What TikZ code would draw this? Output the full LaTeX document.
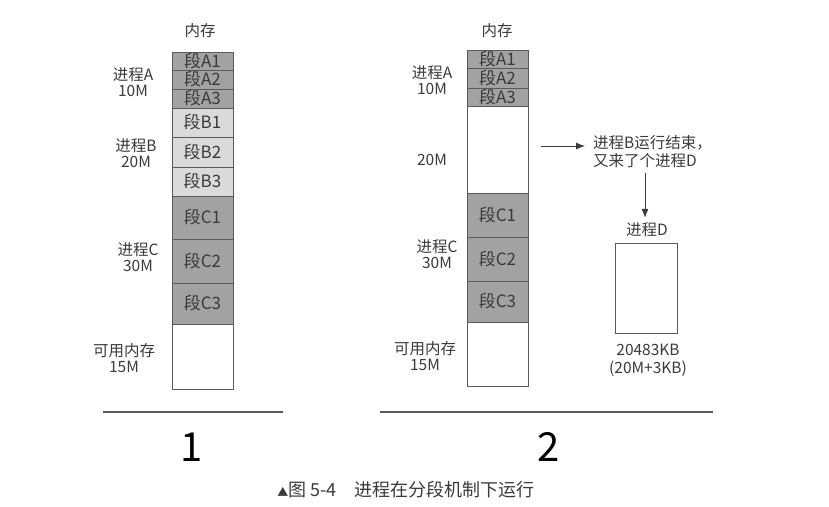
\documentclass[tikz,border=0pt]{standalone}
\usepackage{fontspec}
\setmainfont{Noto Sans CJK SC}
\usepackage{xcolor}
\usetikzlibrary{arrows.meta}

\definecolor{inkgray}{HTML}{3A3A3A}
\definecolor{linegray}{HTML}{5A5A5A}
\definecolor{segdark}{HTML}{A2A2A2}
\definecolor{seglight}{HTML}{DADADA}

\begin{document}
\begin{tikzpicture}[x=1pt, y=-1pt,
  seg/.style={rectangle, draw=linegray, line width=0.9pt, minimum width=61pt, inner sep=0pt, text=inkgray, font=\fontsize{17}{17}\selectfont},
  lbl/.style={align=center, text=inkgray, inner sep=0pt, font=\fontsize{15.5}{16.5}\selectfont},
  arr/.style={-{Latex[length=9pt,width=7pt]}, draw=inkgray, line width=0.8pt}]
\useasboundingbox (0,0) rectangle (829,506);

% memory 1
\node[lbl] (mem1) at (200,31) {内存};
\node[seg, fill=segdark, minimum height=18] (la1) at (202.5,61) {段A1};
\node[seg, fill=segdark, minimum height=19] (la2) at (202.5,79.5) {段A2};
\node[seg, fill=segdark, minimum height=19] (la3) at (202.5,98.5) {段A3};
\node[seg, fill=seglight, minimum height=29] (lb1) at (202.5,122.5) {段B1};
\node[seg, fill=seglight, minimum height=30] (lb2) at (202.5,152) {段B2};
\node[seg, fill=seglight, minimum height=29] (lb3) at (202.5,181.5) {段B3};
\node[seg, fill=segdark, minimum height=43] (lc1) at (202.5,217.5) {段C1};
\node[seg, fill=segdark, minimum height=44] (lc2) at (202.5,261) {段C2};
\node[seg, fill=segdark, minimum height=41] (lc3) at (202.5,303.5) {段C3};
\node[seg, fill=white, minimum height=65] (lfree) at (202.5,356.5) {};

\node[lbl] (lpa) at (133,82) {进程A\\10M};
\node[lbl] (lpb) at (136,153) {进程B\\20M};
\node[lbl] (lpc) at (138,257) {进程C\\30M};
\node[lbl] (lpf) at (124,358) {可用内存\\15M};

% memory 2
\node[lbl] (mem2) at (497,31) {内存};
\node[seg, fill=segdark, minimum height=18] (ra1) at (497.5,59) {段A1};
\node[seg, fill=segdark, minimum height=20] (ra2) at (497.5,78) {段A2};
\node[seg, fill=segdark, minimum height=18] (ra3) at (497.5,97) {段A3};
\node[seg, fill=white, minimum height=87] (rhole) at (497.5,149.5) {};
\node[seg, fill=segdark, minimum height=44] (rc1) at (497.5,215) {段C1};
\node[seg, fill=segdark, minimum height=44] (rc2) at (497.5,259) {段C2};
\node[seg, fill=segdark, minimum height=41] (rc3) at (497.5,301.5) {段C3};
\node[seg, fill=white, minimum height=64] (rfree) at (497.5,354) {};

\node[lbl] (rpa) at (432,80) {进程A\\10M};
\node[lbl] (rpb) at (432,160) {20M};
\node[lbl] (rpc) at (437,254) {进程C\\30M};
\node[lbl] (rpf) at (425,356) {可用内存\\15M};

% process D
\coordinate (fromhole) at (541,146);
\node[lbl, align=left, anchor=north west, font=\fontsize{15.5}{18}\selectfont] (note) at (593,135) {进程B运行结束，\\又来了个进程D};
\node[lbl] (procd) at (647,230) {进程D};
\node[rectangle, draw=linegray, line width=0.9pt, minimum width=62pt, minimum height=90pt] (dbox) at (646,288) {};
\node[lbl, font=\fontsize{15.5}{18}\selectfont] (dsize) at (648,360) {20483KB\\(20M+3KB)};

\draw[arr] (fromhole) -- ++(44,0);
\draw[arr, shorten <=5pt, shorten >=5pt] (note.south -| 645,0) -- (procd.north -| 645,0);

% baselines
\coordinate (base1l) at (103,412);
\coordinate (base1r) at (283,412);
\coordinate (base2l) at (380,412);
\coordinate (base2r) at (713,412);
\draw[draw=linegray, line width=1.1pt] (base1l) -- (base1r);
\draw[draw=linegray, line width=1.1pt, -{Rectangle[length=8pt,width=2.4pt]}] (base2l) -- (base2r);

\node[text=black, inner sep=0pt, font=\fontsize{40}{40}\selectfont] (one) at (192,447) {1};
\node[text=black, inner sep=0pt, font=\fontsize{40}{40}\selectfont] (two) at (549,447) {2};

\node[text=inkgray, inner sep=0pt, font=\fontsize{18}{20}\selectfont] (caption) at (406,490) {{\fontsize{11}{11}\selectfont▲}图 5-4\hspace{1em}进程在分段机制下运行};
\end{tikzpicture}
\end{document}
